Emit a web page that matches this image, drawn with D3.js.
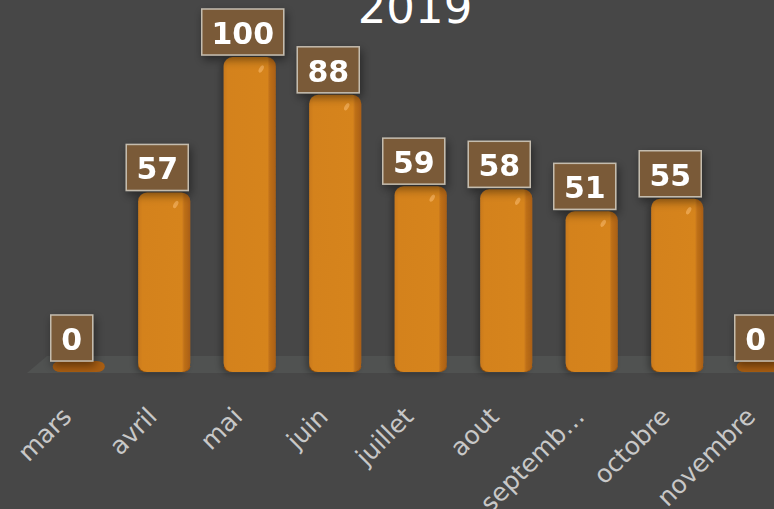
<!DOCTYPE html>
<html lang="fr">
<head>
<meta charset="UTF-8">
<title>2019</title>
<style>
  html, body { margin: 0; padding: 0; background: #474747; }
  svg { display: block; }
</style>
</head>
<body>
<svg id="chart"></svg>
<script src="https://d3js.org/d3.v7.min.js"></script>
<script>
// --- données ---
const months = ["mars", "avril", "mai", "juin", "juillet", "aout", "septemb…", "octobre", "novembre"];
const counts = [0, 57, 100, 88, 59, 58, 51, 55, 0];
const title = "2019";

const W = 774, H = 509;
const floorY = 372;

const svg = d3.select("#chart").attr("width", W).attr("height", H);

const defs = svg.append("defs");

// dégradé des barres (face + côté sombre)
const grad = defs.append("linearGradient").attr("id", "barGrad").attr("x1", 0).attr("x2", 1).attr("y1", 0).attr("y2", 0);
grad.append("stop").attr("offset", "0%").attr("stop-color", "#c9791c");
grad.append("stop").attr("offset", "8%").attr("stop-color", "#d4821f");
grad.append("stop").attr("offset", "84%").attr("stop-color", "#d6841f");
grad.append("stop").attr("offset", "88%").attr("stop-color", "#bf7019");
grad.append("stop").attr("offset", "100%").attr("stop-color", "#a95f14");

const shadow = defs.append("filter").attr("id", "boxShadow")
  .attr("x", "-40%").attr("y", "-40%").attr("width", "180%").attr("height", "180%");
shadow.append("feDropShadow").attr("dx", 2).attr("dy", 4).attr("stdDeviation", 5)
  .attr("flood-color", "#000").attr("flood-opacity", 0.45);

const barShadow = defs.append("filter").attr("id", "barShadow")
  .attr("x", "-40%").attr("y", "-10%").attr("width", "180%").attr("height", "130%");
barShadow.append("feDropShadow").attr("dx", -3).attr("dy", 2).attr("stdDeviation", 3)
  .attr("flood-color", "#000").attr("flood-opacity", 0.3);

// --- échelles ---
const x = d3.scaleBand()
  .domain(months)
  .range([36, 36 + 85.5 * months.length])
  .paddingInner(0.39)
  .paddingOuter(0.195);

const y = d3.scaleLinear()
  .domain([0, 100])
  .range([floorY, 57]);

// sol
svg.append("path")
  .attr("d", `M27,${floorY + 1} L47,${floorY - 16} L${W},${floorY - 16} L${W},${floorY + 1} Z`)
  .attr("fill", "#505251");

// titre
svg.append("text")
  .attr("x", 415).attr("y", 23)
  .attr("text-anchor", "middle")
  .attr("font-family", "DejaVu Sans, Verdana, sans-serif")
  .attr("font-size", 45)
  .attr("fill", "#ffffff")
  .text(title);

const bars = svg.selectAll(".bar")
  .data(months.map((m, i) => ({ m, v: counts[i] })))
  .join("g")
  .attr("class", "bar");

// socle (visible pour les valeurs nulles)
bars.append("rect")
  .attr("x", d => x(d.m))
  .attr("y", floorY - 11)
  .attr("width", x.bandwidth())
  .attr("height", 11)
  .attr("rx", 8)
  .attr("fill", "#a95e12");

bars.filter(d => d.v > 0).append("rect")
  .attr("x", d => x(d.m))
  .attr("y", d => y(d.v))
  .attr("width", x.bandwidth())
  .attr("height", d => floorY - y(d.v))
  .attr("rx", 9)
  .attr("fill", "url(#barGrad)")
  .attr("filter", "url(#barShadow)");

// reflet
bars.filter(d => d.v > 0).append("ellipse")
  .attr("cx", d => x(d.m) + x.bandwidth() * 0.72)
  .attr("cy", d => y(d.v) + 12)
  .attr("rx", 2)
  .attr("ry", 4)
  .attr("transform", d => `rotate(30 ${x(d.m) + x.bandwidth() * 0.72} ${y(d.v) + 12})`)
  .attr("fill", "#f2b060")
  .attr("opacity", 0.7);

// étiquettes de valeur
const lbl = bars.append("g")
  .attr("filter", "url(#boxShadow)");

lbl.append("rect")
  .attr("x", d => x(d.m) + x.bandwidth() / 2 - 7 - (String(d.v).length * 20 + 22) / 2)
  .attr("y", d => y(d.v) - (d.v > 0 ? 48 : 57))
  .attr("width", d => String(d.v).length * 20 + 22)
  .attr("height", 46)
  .attr("fill", "#7a5a38")
  .attr("stroke", "#c4bcae")
  .attr("stroke-width", 1.5);

lbl.append("text")
  .attr("x", d => x(d.m) + x.bandwidth() / 2 - 7)
  .attr("y", d => y(d.v) - (d.v > 0 ? 13 : 22))
  .attr("text-anchor", "middle")
  .attr("font-family", "DejaVu Sans, Verdana, sans-serif")
  .attr("font-weight", "bold")
  .attr("font-size", 30)
  .attr("fill", "#ffffff")
  .text(d => d.v);

// axe des x
const ax = svg.append("g")
  .attr("transform", `translate(0,${floorY + 40})`)
  .call(d3.axisBottom(x).tickSize(0).tickPadding(0));
ax.select(".domain").remove();
ax.selectAll("text")
  .attr("font-family", "DejaVu Sans, Verdana, sans-serif")
  .attr("font-size", 25)
  .attr("fill", "#c8c8c8")
  .attr("text-anchor", "end")
  .attr("dy", "0.35em")
  .attr("transform", "translate(-12,0) rotate(-45)");
</script>
</body>
</html>
